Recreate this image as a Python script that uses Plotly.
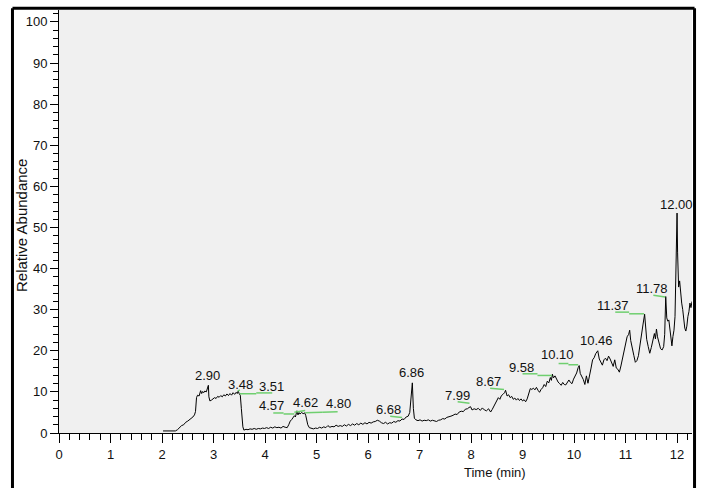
import plotly.graph_objects as go

# Total ion chromatogram: retention time (min) vs relative abundance (%)
time_min = [
    2.02, 2.08, 2.14, 2.20, 2.26, 2.30, 2.34, 2.38, 2.42, 2.46, 2.50, 2.54, 2.57, 2.60, 2.63, 2.65,
    2.67, 2.69, 2.72, 2.75, 2.77, 2.79, 2.81, 2.83, 2.86, 2.88, 2.90, 2.91, 2.93, 2.96, 2.99,
    3.02, 3.05, 3.08, 3.11, 3.14, 3.17, 3.20, 3.23, 3.26, 3.29, 3.32, 3.35, 3.38, 3.41, 3.44,
    3.46, 3.48, 3.50, 3.52, 3.54, 3.57, 3.59,
    3.63, 3.67, 3.71, 3.75, 3.79, 3.83, 3.87, 3.91, 3.95, 3.99, 4.03, 4.07, 4.11, 4.15, 4.19,
    4.23, 4.27, 4.31, 4.35, 4.39, 4.43,
    4.46, 4.49, 4.52, 4.55, 4.57, 4.59, 4.62, 4.64, 4.66, 4.68, 4.71, 4.74, 4.77, 4.79, 4.81,
    4.83, 4.86,
    4.90, 4.94, 4.98, 5.02, 5.06, 5.10, 5.14, 5.18, 5.22, 5.26, 5.30, 5.34, 5.38, 5.42, 5.46,
    5.50, 5.54, 5.58, 5.62, 5.66, 5.70, 5.74, 5.78, 5.82, 5.86, 5.90, 5.94, 5.98, 6.02, 6.06,
    6.10, 6.14, 6.18, 6.22, 6.26, 6.30, 6.34, 6.38, 6.42, 6.46, 6.50, 6.54, 6.58, 6.62, 6.66,
    6.70, 6.74, 6.78, 6.81, 6.84, 6.86, 6.88, 6.90, 6.93,
    6.97, 7.01, 7.05, 7.09, 7.13, 7.17, 7.21, 7.25, 7.29, 7.33, 7.37, 7.41, 7.45, 7.49, 7.53,
    7.57, 7.61, 7.65, 7.69, 7.73, 7.77, 7.81, 7.85, 7.89, 7.93, 7.96, 7.99, 8.02, 8.06, 8.10,
    8.14, 8.18, 8.22, 8.26, 8.30, 8.34, 8.38, 8.41, 8.44, 8.47, 8.50, 8.53, 8.56, 8.59, 8.62,
    8.65, 8.67, 8.70, 8.73, 8.76, 8.79, 8.82, 8.85, 8.88, 8.91, 8.94, 8.97, 9.00, 9.03, 9.06,
    9.09, 9.12, 9.15, 9.18, 9.21, 9.24, 9.27, 9.30, 9.33, 9.36, 9.39, 9.42, 9.45, 9.48, 9.51,
    9.54, 9.56, 9.58, 9.60, 9.63, 9.66, 9.69, 9.72, 9.75, 9.78, 9.81, 9.84, 9.87, 9.90, 9.93,
    9.96, 9.99, 10.02, 10.05, 10.08, 10.10, 10.12, 10.15, 10.18, 10.21, 10.24, 10.27, 10.30,
    10.33, 10.36, 10.39, 10.42, 10.44, 10.46, 10.49, 10.52, 10.55, 10.58, 10.61, 10.64, 10.67,
    10.70, 10.73, 10.76, 10.79, 10.82, 10.85, 10.88, 10.91, 10.94, 10.97, 11.00, 11.03, 11.06,
    11.08, 11.10, 11.13, 11.16, 11.19, 11.22, 11.25, 11.28, 11.31, 11.34, 11.37, 11.39, 11.41,
    11.44, 11.47, 11.50, 11.53, 11.56, 11.58, 11.60, 11.62, 11.65, 11.68, 11.71, 11.74, 11.76,
    11.78, 11.80, 11.82, 11.84, 11.86, 11.88, 11.90, 11.92, 11.94, 11.96, 11.98, 12.00, 12.01,
    12.03, 12.05, 12.07, 12.09, 12.11, 12.13, 12.15, 12.17, 12.19, 12.21, 12.23, 12.25, 12.27,
    12.29,
]
abundance = [
    0.5, 0.5, 0.4, 0.5, 0.5, 0.8, 1.3, 1.8, 2.0, 2.6, 2.9, 3.3, 3.5, 3.9, 4.4, 5.2,
    8.6, 9.2, 9.0, 10.3, 9.6, 10.1, 9.8, 10.2, 10.0, 11.0, 11.6, 8.8, 7.8, 8.0, 8.3,
    8.6, 8.4, 8.9, 8.7, 9.1, 8.8, 9.3, 9.0, 9.5, 9.1, 9.6, 9.2, 9.8, 9.4, 9.9,
    9.6, 10.2, 9.5, 9.2, 6.0, 1.5, 0.7,
    0.9, 0.8, 1.0, 0.9, 1.1, 0.9, 1.1, 1.0, 1.2, 1.1, 1.3, 1.1, 1.4, 1.2, 1.5,
    1.3, 1.4, 1.2, 1.6, 1.4, 1.3,
    2.0, 2.9, 3.3, 3.8, 4.2, 3.9, 5.4, 4.4, 5.0, 4.6, 5.0, 4.7, 4.9, 4.3, 3.2,
    2.0, 1.3,
    1.1, 1.0, 1.2, 1.1, 1.4, 1.2, 1.5, 1.3, 1.8, 1.4, 1.6, 1.5, 1.9, 1.6, 1.8,
    1.6, 2.0, 1.7, 2.1, 1.8, 2.2, 1.9, 2.3, 2.0, 2.4, 2.1, 2.5, 2.2, 2.6, 2.4,
    2.7, 2.8, 3.1, 2.9, 2.5, 2.3, 2.6, 2.2, 2.5, 2.4, 2.8, 2.6, 3.0, 2.9, 3.4,
    3.3, 3.9, 4.1, 5.0, 8.5, 12.2, 6.0, 3.6, 3.2,
    3.0, 3.2, 2.9, 3.1, 3.0, 3.2, 2.9, 3.1, 3.0, 2.8, 3.1, 3.2, 3.5, 3.4, 3.8,
    3.9, 4.1, 4.3, 4.6, 4.5, 5.1, 5.3, 5.2, 5.8, 5.9, 6.2, 6.4, 5.6, 5.9, 5.7,
    6.0, 5.5, 6.1, 5.6, 5.4, 5.9, 5.1, 5.7, 6.5, 7.3, 7.9, 8.6, 8.2, 9.1, 9.4,
    9.8, 10.4, 9.0, 9.3, 8.6, 8.9, 8.2, 8.5, 8.0, 8.4, 7.9, 8.3, 7.8, 8.1, 7.6,
    8.3, 9.6, 10.8, 10.6, 10.9, 10.5, 11.1, 10.4, 9.9, 10.6, 11.0, 11.8, 11.3, 12.6, 12.2,
    13.5, 12.8, 14.3, 13.4, 13.9, 13.0, 12.4, 12.0, 11.6, 12.3, 11.8, 11.7, 12.4, 12.9, 12.3,
    12.0, 13.1, 13.8, 14.6, 15.9, 16.4, 14.5, 13.8, 13.0, 11.8, 13.9, 12.1, 14.5,
    15.8, 17.8, 18.3, 19.3, 19.6, 20.0, 18.0, 17.3, 16.5, 17.8, 18.2, 17.6, 18.7,
    18.0, 17.0, 16.2, 17.8, 15.8, 15.5, 14.8, 16.3, 18.1, 20.2, 22.0, 23.4, 24.0,
    25.0, 22.5, 20.3, 18.9, 17.2, 17.6, 18.8, 21.8, 24.0, 26.5, 28.9, 25.5, 22.8,
    21.0, 19.4, 20.8, 23.0, 24.2, 22.9, 25.3, 23.4, 21.5, 20.5, 20.2, 21.0, 24.0,
    33.2, 28.0, 27.2, 27.5, 25.5, 24.5, 21.2, 23.5, 25.0, 28.3, 40.0, 53.5, 44.0,
    35.5, 37.0, 33.0, 31.6, 30.0, 27.5, 25.5, 24.8, 26.0, 28.3, 29.5, 31.6, 30.5,
    32.0,
]

# Peak labels (retention time text, label anchor time, label anchor abundance)
peak_text = ["2.90", "3.48", "3.51", "4.57", "4.62", "4.80", "6.68", "6.86",
             "7.99", "8.67", "9.58", "10.10", "10.46", "11.37", "11.78", "12.00"]
peak_label_t = [2.89, 3.53, 4.13, 4.12, 4.79, 5.43, 6.39, 6.84,
                7.73, 8.34, 8.97, 9.68, 10.43, 10.75, 11.51, 11.98]
peak_label_y = [13.9, 11.9, 11.4, 6.8, 7.4, 7.1, 5.8, 14.7,
                9.2, 12.5, 15.9, 19.0, 22.6, 31.1, 35.2, 55.7]

# Green leader segments beneath labels: (t0, y0, t1, y1)
leader_t0 = [3.47, 3.51, 3.83, 4.16, 4.36, 4.57, 4.78, 5.11, 6.43, 7.74, 8.37, 9.00, 9.29, 9.70, 9.89, 10.80, 11.07, 11.54]
leader_y0 = [10.2, 9.55, 9.75, 4.87, 4.63, 5.07, 4.92, 5.07, 4.10, 7.60, 10.9, 14.4, 14.0, 16.9, 16.6, 29.4, 29.0, 33.5]
leader_t1 = [3.51, 3.83, 4.14, 4.36, 4.57, 4.78, 5.11, 5.41, 6.66, 7.97, 8.64, 9.29, 9.57, 9.89, 10.08, 11.07, 11.36, 11.77]
leader_y1 = [10.5, 9.55, 9.75, 4.87, 4.63, 5.48, 5.07, 5.16, 3.80, 7.26, 10.6, 14.4, 14.0, 16.9, 16.6, 29.4, 29.0, 33.1]

FONT = "Liberation Sans, Arial, sans-serif"

fig = go.Figure()
fig.add_trace(go.Scatter(
    x=time_min, y=abundance, mode="lines",
    line=dict(color="black", width=1), hoverinfo="skip", showlegend=False,
))

for t0, y0, t1, y1 in zip(leader_t0, leader_y0, leader_t1, leader_y1):
    fig.add_shape(type="line", xref="x", yref="y", x0=t0, y0=y0, x1=t1, y1=y1,
                  line=dict(color="#6fcf6f", width=1.5))

for txt, t, y in zip(peak_text, peak_label_t, peak_label_y):
    fig.add_annotation(x=t, y=y, xref="x", yref="y", text=txt, showarrow=False,
                       xanchor="center", yanchor="middle",
                       font=dict(family=FONT, size=13, color="#111111"))

# Outer frame (left, top, right edges)
frame = dict(color="black", width=3)
fig.add_shape(type="line", xref="paper", yref="paper", x0=-0.0735, x1=-0.0735, y0=1.004, y1=-0.2, line=frame)
fig.add_shape(type="line", xref="paper", yref="paper", x0=-0.0735, x1=1.004, y0=1.004, y1=1.004, line=frame)
fig.add_shape(type="line", xref="paper", yref="paper", x0=1.004, x1=1.004, y0=1.004, y1=-0.2, line=frame)

# Axis titles
fig.add_annotation(xref="paper", yref="paper", x=(495 - 59) / 633, y=(433 - 472) / 423,
                   text="Time (min)", showarrow=False, xanchor="center", yanchor="middle",
                   font=dict(family=FONT, size=13, color="#111111"))
fig.add_annotation(xref="paper", yref="paper", x=(21 - 59) / 633, y=(433 - 226) / 423,
                   text="Relative Abundance", showarrow=False, textangle=-90,
                   xanchor="center", yanchor="middle",
                   font=dict(family=FONT, size=15, color="#111111"))

fig.update_layout(
    width=701, height=488,
    margin=dict(l=59, r=9, t=10, b=55),
    paper_bgcolor="white", plot_bgcolor="#f0f0f0",
    font=dict(family=FONT, size=13, color="#111111"),
    showlegend=False,
)
fig.update_xaxes(
    range=[0, 12.29], tick0=0, dtick=1, showgrid=False, zeroline=False,
    showline=True, linecolor="black", linewidth=1,
    ticks="outside", ticklen=9, tickcolor="black", tickwidth=1,
    minor=dict(dtick=0.2, tick0=0, ticks="outside", ticklen=6, tickcolor="black", showgrid=False),
    tickfont=dict(family=FONT, size=13),
)
fig.update_yaxes(
    range=[0, 102.9], tick0=0, dtick=10, showgrid=False, zeroline=False,
    showline=True, linecolor="black", linewidth=1,
    ticks="outside", ticklen=8, tickcolor="black", tickwidth=1,
    minor=dict(dtick=2, tick0=0, ticks="outside", ticklen=5, tickcolor="black", showgrid=False),
    tickfont=dict(family=FONT, size=13),
)

fig.write_html("out.html")
